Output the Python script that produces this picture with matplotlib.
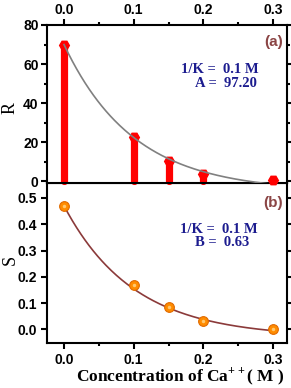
import numpy as np
import matplotlib
matplotlib.use("Agg")
import matplotlib.pyplot as plt

# data
conc = [0.0, 0.1, 0.15, 0.2, 0.3]
r_vals = [70.0, 22.5, 10.5, 4.0, 0.5]
s_vals = [0.47, 0.17, 0.085, 0.03, 0.0]
x_ticks = [0.0, 0.1, 0.2, 0.3]
x_ticklabels = ["0.0", "0.1", "0.2", "0.3"]
r_ticks = [0, 20, 40, 60, 80]
s_ticks = [0.0, 0.1, 0.2, 0.3, 0.4, 0.5]

# exponential fit curves, decay length 1/K = 0.1 M
inv_k = 0.1
r_amp, r_off = 75.2, -5.2
s_amp, s_off = 0.50, -0.03

plt.rcParams['mathtext.fontset'] = 'custom'
plt.rcParams['mathtext.rm'] = 'Liberation Serif:bold'

tick_font = dict(family='Liberation Sans', weight='bold', size=10)
label_font = dict(family='Liberation Serif', size=13)
note_font = dict(family='Liberation Serif', weight='bold', size=10.5)
navy = '#1c1c8f'
tag_col = '#8b4545'

fig = plt.figure(figsize=(2.91, 3.88), dpi=100)
W, H = 291.0, 388.0
ax1 = fig.add_axes([47 / W, 1 - 183 / H, 240 / W, 158 / H])
ax2 = fig.add_axes([47 / W, 1 - 343 / H, 240 / W, 160 / H])
ax1.set_zorder(3)

xf = np.linspace(0, 0.3, 200)

# --- top panel (R) ---
ax1.vlines(conc, 0, r_vals, color='red', lw=5.2, capstyle='round', zorder=2, clip_on=False)
ax1.plot(conc, r_vals, 'H', color='red', ms=7, zorder=3, clip_on=False)
ax1.plot(xf, r_amp * np.exp(-xf / inv_k) + r_off, color='#808080', lw=1.2, zorder=4)
ax1.set_xlim(-0.0244, 0.32)
ax1.set_ylim(-0.8, 80)
ax1.set_yticks(r_ticks)
ax1.set_yticks(np.arange(10, 80, 20), minor=True)
ax1.set_xticks(x_ticks)
ax1.set_xticks([0.05, 0.15, 0.25], minor=True)
ax1.xaxis.tick_top()
ax1.set_xticklabels(x_ticklabels, fontdict=tick_font)
ax1.set_yticklabels([str(v) for v in r_ticks], fontdict=tick_font)
ax1.tick_params(which='both', direction='out', width=1.5, right=True, top=True, bottom=False)
ax1.tick_params(which='major', length=4, pad=2)
ax1.tick_params(which='minor', length=2.5)
ax1.text(0.983, 0.89, "(a)", transform=ax1.transAxes, ha='right', va='center',
         family='Liberation Sans', weight='bold', size=11, color=tag_col)
ax1.text(0.883, 0.72, "1/K =  0.1 M", transform=ax1.transAxes, ha='right', va='center',
         color=navy, **note_font)
ax1.text(0.875, 0.627, "A =  97.20", transform=ax1.transAxes, ha='right', va='center',
         color=navy, **note_font)

# --- bottom panel (S) ---
ax2.plot(xf, s_amp * np.exp(-xf / inv_k) + s_off, color='#8b3a3a', lw=1.2, zorder=2)
ax2.plot(conc, s_vals, 'o', color='#ff8c00', mec='#e06a00', mew=0.8, ms=7, zorder=3)
ax2.plot(conc, s_vals, 'o', color='#ffc870', mew=0, ms=2.5, zorder=4)
ax2.set_xlim(-0.0244, 0.32)
ax2.set_ylim(-0.052, 0.557)
ax2.set_yticks(s_ticks)
ax2.set_xticks(x_ticks)
ax2.set_xticks([0.05, 0.15, 0.25], minor=True)
ax2.set_xticklabels(x_ticklabels, fontdict=tick_font)
ax2.set_yticklabels(["%.1f" % v for v in s_ticks], fontdict=tick_font)
ax2.tick_params(which='both', direction='out', width=1.5, right=True, top=True)
ax2.tick_params(which='major', length=4, pad=3)
ax2.tick_params(which='minor', length=2.5)
ax2.text(0.983, 0.875, "(b)", transform=ax2.transAxes, ha='right', va='center',
         family='Liberation Sans', weight='bold', size=11, color=tag_col)
ax2.text(0.879, 0.71, "1/K =  0.1 M", transform=ax2.transAxes, ha='right', va='center',
         color=navy, **note_font)
ax2.text(0.842, 0.63, "B =  0.63", transform=ax2.transAxes, ha='right', va='center',
         color=navy, **note_font)

# axis titles
fig.text(10 / W, 1 - 108 / H, "R", rotation=90, ha='center', va='center', **label_font)
fig.text(10 / W, 1 - 260 / H, "S", rotation=90, ha='center', va='center', **label_font)
fig.text(180 / W, 1 - 376 / H, "Concentration of Ca$^{++}$( M )", ha='center', va='center',
         family='Liberation Serif', weight='bold', size=12.5)

for ax in (ax1, ax2):
    for sp in ax.spines.values():
        sp.set_linewidth(1.5)

fig.savefig("out.png", dpi=100)
